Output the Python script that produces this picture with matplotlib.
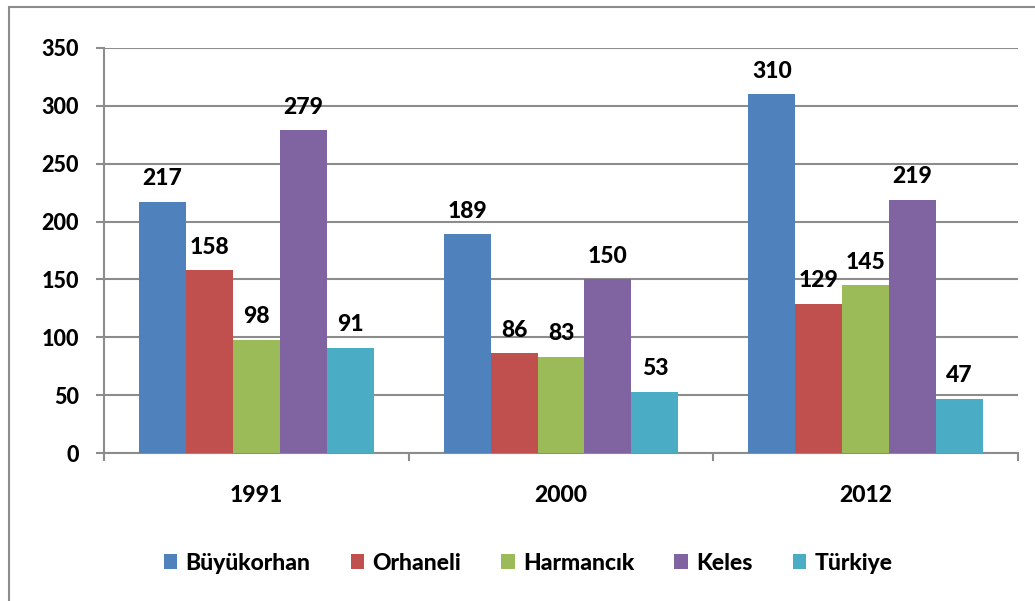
import matplotlib.pyplot as plt
from matplotlib.patches import Rectangle
import numpy as np

# Data -----
years = ["1991", "2000", "2012"]
series = ["Büyükorhan", "Orhaneli", "Harmancık", "Keles", "Türkiye"]
buyukorhan = [217, 189, 310]
orhaneli = [158, 86, 129]
harmancik = [98, 83, 145]
keles = [279, 150, 219]
turkiye = [91, 53, 47]
values = [buyukorhan, orhaneli, harmancik, keles, turkiye]
colors = ["#4F81BD", "#C0504D", "#9BBB59", "#8064A2", "#4BACC6"]

plt.rcParams["font.family"] = ["Lato", "DejaVu Sans"]
plt.rcParams["font.weight"] = "black"

fig = plt.figure(figsize=(10.35, 6.01), dpi=100)
ax = fig.add_axes([104 / 1035, 1 - 453 / 601, (1018 - 104) / 1035, (453 - 48) / 601])

# Outer frame of the chart area
fig.patches.append(Rectangle((9 / 1035, -0.1), 1.2, 1 - 7 / 601 + 0.1,
                             transform=fig.transFigure, fill=False,
                             edgecolor="#8c8c8c", linewidth=1.5))

x = np.arange(len(years))
width = 0.154
for i, (name, vals, c) in enumerate(zip(series, values, colors)):
    pos = x + (i - 2) * width
    ax.bar(pos, vals, width=width, color=c, label=name, zorder=3)
    for px, v in zip(pos, vals):
        ax.annotate(str(v), (px, v), xytext=(0, 9), textcoords="offset points",
                    ha="center", va="bottom", fontsize=16.5, fontweight="black")

ax.set_xlim(-0.5, 2.5)
ax.set_ylim(0, 350)
ax.set_yticks(range(0, 351, 50))
ax.yaxis.grid(True, color="#8c8c8c", linewidth=1.5, zorder=0)
ax.set_xticks(x)
ax.set_xticklabels(years)
ax.set_xticks([-0.5, 0.5, 1.5, 2.5], minor=True)
ax.tick_params(axis="x", which="major", length=0, pad=23, labelsize=16.5)
ax.tick_params(axis="x", which="minor", length=6, width=1.5, color="#8c8c8c")
ax.tick_params(axis="y", length=6, width=1.5, color="#8c8c8c", pad=12, labelsize=15.5)

for s in ["top", "right"]:
    ax.spines[s].set_visible(False)
ax.spines["left"].set_color("#8c8c8c")
ax.spines["left"].set_linewidth(1.5)
ax.spines["bottom"].set_color("#8c8c8c")
ax.spines["bottom"].set_linewidth(1.5)

fig.legend(loc="center", bbox_to_anchor=(528 / 1035, 1 - 563 / 601), ncol=5,
           frameon=False, fontsize=16.5, handlelength=0.6, handleheight=0.6,
           handletextpad=0.35, columnspacing=1.75)

plt.savefig("out.png", dpi=100)
